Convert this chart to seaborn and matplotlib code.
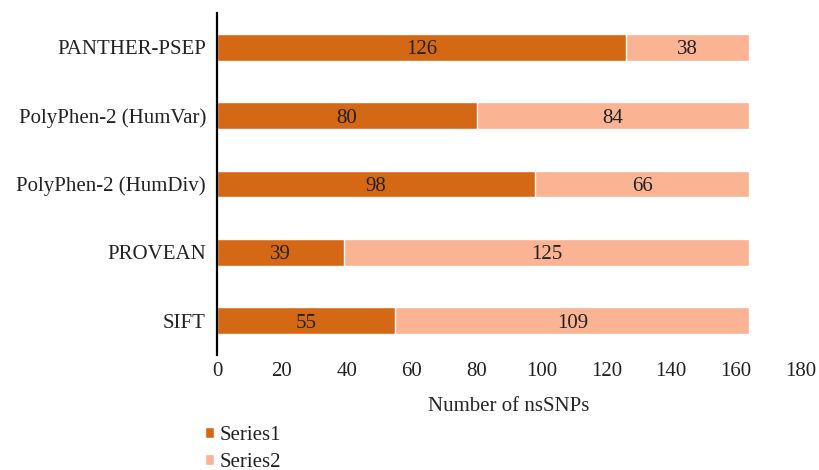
import matplotlib
matplotlib.use("Agg")
import matplotlib.pyplot as plt
import seaborn as sns
import pandas as pd

# Prediction tools and their nsSNP counts
tools = ["PANTHER-PSEP", "PolyPhen-2 (HumVar)", "PolyPhen-2 (HumDiv)", "PROVEAN", "SIFT"]
series1 = [126, 80, 98, 39, 55]
series2 = [38, 84, 66, 125, 109]
series_names = ["Series1", "Series2"]
colors = ["#D56815", "#FAB393"]
x_ticks = [0, 20, 40, 60, 80, 100, 120, 140, 160, 180]

sns.set_theme(style="white")
plt.rcParams["font.family"] = ["Liberation Serif", "DejaVu Serif"]
plt.rcParams["text.color"] = "#222222"

FS = 15

df = pd.DataFrame({"tool": tools, "Series1": series1, "Series2": series2})
df["total"] = df["Series1"] + df["Series2"]

fig = plt.figure(figsize=(8.19, 4.70), dpi=100)
ax = fig.add_axes([0.265, 0.245, 0.713, 0.727])

# Stacked horizontal bars: draw the totals first, then the first series over them
sns.barplot(data=df, y="tool", x="total", order=tools, color=colors[1],
            width=0.39, saturation=1, ax=ax, label=series_names[1])
sns.barplot(data=df, y="tool", x="Series1", order=tools, color=colors[0],
            width=0.39, saturation=1, ax=ax, label=series_names[0])
handles, labels = ax.get_legend_handles_labels()
if ax.get_legend() is not None:
    ax.get_legend().remove()

# Value labels centred in each segment
for i, (a, b) in enumerate(zip(series1, series2)):
    ax.text(a / 2, i, str(a), ha="center", va="center_baseline", fontsize=FS, color="#222222")
    ax.text(a + b / 2, i, str(b), ha="center", va="center_baseline", fontsize=FS, color="#222222")

ax.set_xlim(0, 180)
ax.set_ylim(4.5, -0.5)
ax.set_xticks(x_ticks)
ax.set_xticklabels([str(t) for t in x_ticks])
ax.set_xlabel("Number of nsSNPs", fontsize=FS, labelpad=12)
ax.set_ylabel("")
ax.tick_params(axis="both", length=0, labelsize=FS, colors="#222222")
ax.tick_params(axis="y", pad=8)
ax.tick_params(axis="x", pad=5)

for side in ["top", "right", "bottom"]:
    ax.spines[side].set_visible(False)
ax.spines["left"].set_color("black")
ax.spines["left"].set_linewidth(1.6)

# Legend below the axis, Series1 listed first
order = [labels.index(n) for n in series_names]
fig.legend([handles[k] for k in order], [labels[k] for k in order],
           loc="upper left", bbox_to_anchor=(0.25, 0.093), frameon=False,
           fontsize=FS, handlelength=0.45, handleheight=0.45, handletextpad=0.25,
           labelspacing=0.35, borderaxespad=0, borderpad=0)

fig.savefig("out.png", dpi=100, facecolor="white")
